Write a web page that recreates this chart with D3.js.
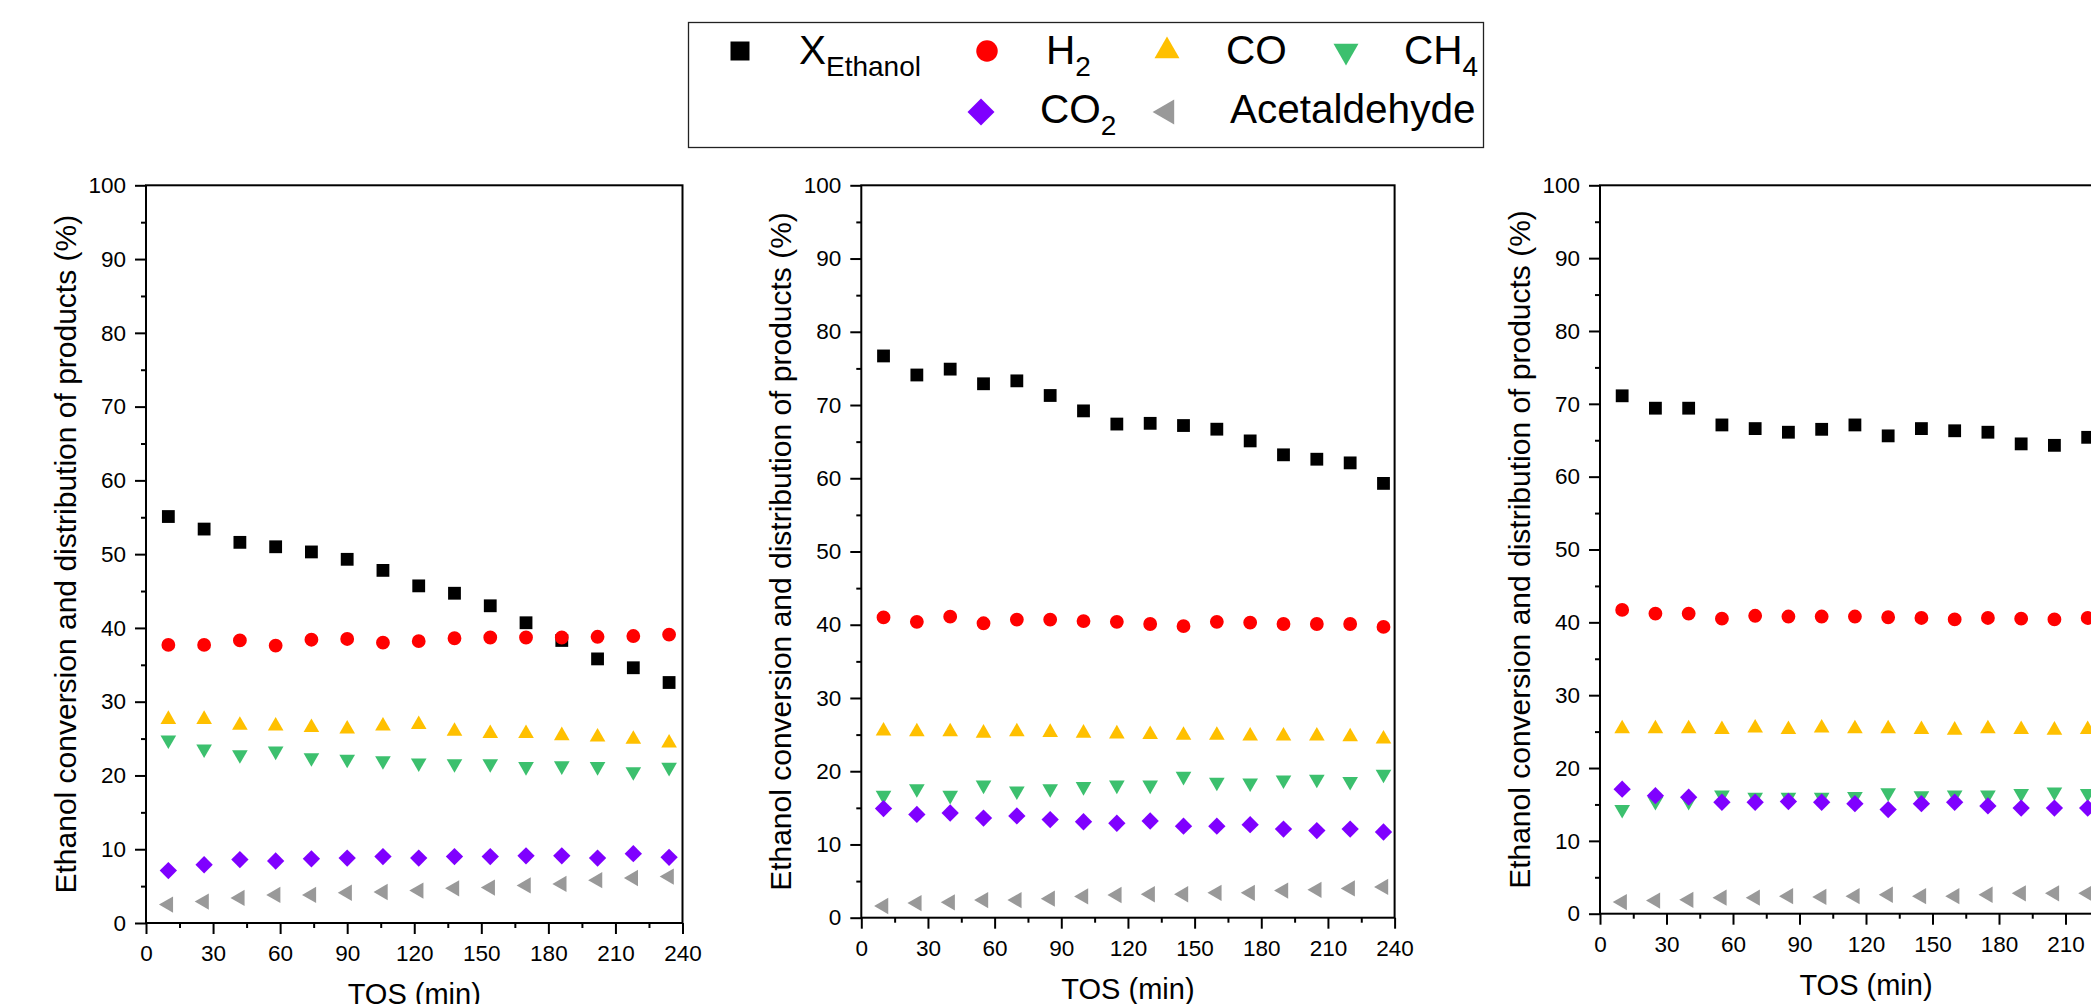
<!DOCTYPE html>
<head>
  <meta charset="utf-8">
  <script src="https://cdn.jsdelivr.net/npm/d3@7"></script>
  <title>Ethanol conversion and product distribution vs TOS</title>
  <style>
    body { margin: 0; background: #fff; }
    text { font-family: "Liberation Sans", Arial, sans-serif; fill: #000; }
  </style>
</head>
<body>
  <div id="chartDiv"></div>
  <script>

    // time on stream (min) for each of the three panels
    var tosA = [10, 26, 42, 58, 74, 90, 106, 122, 138, 154, 170, 186, 202, 218, 234];
    var tosB = [10, 25, 40, 55, 70, 85, 100, 115, 130, 145, 160, 175, 190, 205, 220, 235];
    var tosC = [10, 25, 40, 55, 70, 85, 100, 115, 130, 145, 160, 175, 190, 205, 220];

    // panel 1
    var ethanolA = [55.1, 53.4, 51.6, 51.0, 50.3, 49.3, 47.8, 45.7, 44.7, 43.0, 40.7, 38.3, 35.8, 34.6, 32.6];
    var h2A      = [37.7, 37.7, 38.3, 37.6, 38.4, 38.5, 38.0, 38.2, 38.6, 38.7, 38.7, 38.7, 38.8, 38.9, 39.1];
    var coA      = [27.6, 27.6, 26.8, 26.7, 26.5, 26.3, 26.7, 26.9, 26.0, 25.7, 25.7, 25.4, 25.2, 24.9, 24.4];
    var ch4A     = [24.8, 23.6, 22.8, 23.3, 22.4, 22.2, 22.0, 21.7, 21.6, 21.6, 21.2, 21.3, 21.2, 20.5, 21.1];
    var co2A     = [7.1, 7.9, 8.6, 8.4, 8.7, 8.8, 9.0, 8.8, 9.0, 9.0, 9.1, 9.1, 8.8, 9.4, 8.9];
    var acetA    = [2.5, 2.9, 3.4, 3.8, 3.8, 4.1, 4.2, 4.4, 4.7, 4.8, 5.1, 5.3, 5.8, 6.1, 6.3];

    // panel 2
    var ethanolB = [76.7, 74.1, 74.9, 72.9, 73.3, 71.3, 69.2, 67.4, 67.5, 67.2, 66.7, 65.1, 63.2, 62.6, 62.1, 59.3];
    var h2B      = [41.0, 40.4, 41.1, 40.2, 40.7, 40.7, 40.5, 40.4, 40.1, 39.8, 40.4, 40.3, 40.1, 40.1, 40.1, 39.7];
    var coB      = [25.5, 25.4, 25.4, 25.2, 25.4, 25.3, 25.2, 25.1, 25.0, 24.9, 24.9, 24.8, 24.8, 24.8, 24.7, 24.4];
    var ch4B     = [16.7, 17.6, 16.7, 18.1, 17.3, 17.6, 17.9, 18.1, 18.1, 19.3, 18.5, 18.4, 18.8, 18.9, 18.6, 19.6];
    var co2B     = [14.9, 14.1, 14.3, 13.6, 13.9, 13.4, 13.1, 12.9, 13.2, 12.5, 12.5, 12.7, 12.1, 11.9, 12.1, 11.7];
    var acetB    = [1.6, 2.0, 2.1, 2.4, 2.4, 2.6, 2.9, 3.1, 3.2, 3.2, 3.4, 3.4, 3.7, 3.8, 4.0, 4.2];

    // panel 3 (cut off at the right edge)
    var ethanolC = [71.1, 69.4, 69.4, 67.1, 66.6, 66.1, 66.5, 67.1, 65.6, 66.6, 66.3, 66.1, 64.5, 64.3, 65.4];
    var h2C      = [41.7, 41.2, 41.2, 40.5, 40.9, 40.8, 40.8, 40.8, 40.7, 40.6, 40.4, 40.6, 40.5, 40.4, 40.6];
    var coC      = [25.4, 25.4, 25.4, 25.3, 25.5, 25.3, 25.5, 25.4, 25.4, 25.3, 25.2, 25.4, 25.3, 25.2, 25.3];
    var ch4C     = [14.3, 15.4, 15.4, 16.3, 16.0, 16.0, 16.0, 16.1, 16.6, 16.2, 16.3, 16.3, 16.5, 16.7, 16.5];
    var co2C     = [17.1, 16.2, 16.0, 15.3, 15.3, 15.4, 15.3, 15.1, 14.3, 15.1, 15.3, 14.8, 14.5, 14.5, 14.5];
    var acetC    = [1.6, 1.8, 1.9, 2.2, 2.2, 2.4, 2.3, 2.4, 2.6, 2.4, 2.4, 2.6, 2.8, 2.8, 2.8];

    var seriesNames = ["X", "H", "CO", "CH", "CO", "Acetaldehyde"];
    var seriesSubs  = ["Ethanol", "2", "", "4", "2", ""];
    var seriesColors = ["#000000", "#ff0000", "#ffc000", "#3cc06e", "#7f00ff", "#999999"];

    var yTicks = d3.range(0, 101, 10);
    var xTicks = d3.range(0, 241, 30);

    var width = 2091;
    var height = 1004;

    // marker shapes: [symbol type, rotation, area in panel, area in legend]
    var shapes = [
      [d3.symbolSquare, 0, 164, 361],
      [d3.symbolCircle, 0, 150, 363],
      [d3.symbolTriangle, 0, 106, 270],
      [d3.symbolTriangle, 180, 106, 270],
      [d3.symbolSquare, 45, 150, 365],
      [d3.symbolTriangle, -90, 115, 270]
    ];

    var panels = [
      { left: 146, right: 682.5, top: 185.3, bottom: 923, tos: tosA,
        values: [ethanolA, h2A, coA, ch4A, co2A, acetA] },
      { left: 861.3, right: 1394.6, top: 185.3, bottom: 917.7, tos: tosB,
        values: [ethanolB, h2B, coB, ch4B, co2B, acetB] },
      { left: 1600, right: 2132, top: 185.3, bottom: 913.7, tos: tosC,
        values: [ethanolC, h2C, coC, ch4C, co2C, acetC] }
    ];

    var svg = d3.select("#chartDiv").append("svg")
        .attr("width", width)
        .attr("height", height);

    panels.forEach(function(p) {
      var x = d3.scaleLinear().domain([0, 240]).range([p.left, p.right]);
      var y = d3.scaleLinear().domain([0, 100]).range([p.bottom, p.top]);

      var g = svg.append("g");

      // minor ticks
      g.append("g")
          .attr("transform", "translate(0," + p.bottom + ")")
          .call(d3.axisBottom(x).tickValues(d3.range(15, 241, 30)).tickSize(5).tickFormat(""));
      g.append("g")
          .attr("transform", "translate(" + p.left + ",0)")
          .call(d3.axisLeft(y).tickValues(d3.range(5, 101, 10)).tickSize(5).tickFormat(""));

      // major ticks
      g.append("g")
          .attr("transform", "translate(0," + p.bottom + ")")
          .call(d3.axisBottom(x).tickValues(xTicks).tickSize(11).tickPadding(11));
      g.append("g")
          .attr("transform", "translate(" + p.left + ",0)")
          .call(d3.axisLeft(y).tickValues(yTicks).tickSize(11).tickPadding(9));

      g.selectAll(".domain").remove();
      g.selectAll(".tick line").attr("stroke", "#000").attr("stroke-width", 2);
      g.selectAll(".tick text")
          .style("font-family", "'Liberation Sans', Arial, sans-serif")
          .style("font-size", "22.5px")
          .attr("fill", "#000");

      // frame
      g.append("rect")
          .attr("x", p.left)
          .attr("y", p.top)
          .attr("width", p.right - p.left)
          .attr("height", p.bottom - p.top)
          .attr("fill", "none")
          .attr("stroke", "#000")
          .attr("stroke-width", 2);

      // axis titles
      g.append("text")
          .attr("transform", "translate(" + (p.left - 70) + "," + ((p.top + p.bottom) / 2) + ") rotate(-90)")
          .attr("text-anchor", "middle")
          .style("font-size", "30px")
          .text("Ethanol conversion and distribution of products (%)");

      g.append("text")
          .attr("x", (p.left + p.right) / 2)
          .attr("y", p.bottom + 81)
          .attr("text-anchor", "middle")
          .style("font-size", "29px")
          .text("TOS (min)");

      // points
      p.values.forEach(function(vals, s) {
        var sym = d3.symbol().type(shapes[s][0]).size(shapes[s][2]);
        g.append("g").selectAll("path")
            .data(vals)
          .enter().append("path")
            .attr("d", sym)
            .attr("transform", function(d, i) {
              return "translate(" + x(p.tos[i]) + "," + y(d) + ") rotate(" + shapes[s][1] + ")";
            })
            .attr("fill", seriesColors[s]);
      });
    });

    // legend
    var legend = svg.append("g").attr("transform", "translate(688,22)");

    legend.append("rect")
        .attr("x", 0.5)
        .attr("y", 0.5)
        .attr("width", 795)
        .attr("height", 125)
        .attr("fill", "none")
        .attr("stroke", "#222")
        .attr("stroke-width", 1.3);

    // where each legend item sits: marker x, text x, row
    var legendMarkerX = [52, 299, 479, 658, 293, 479];
    var legendTextX   = [111, 358, 538, 716, 352, 542];
    var legendRow     = [0, 0, 0, 0, 1, 1];
    var rowMarkerY = [29, 90];
    var rowTextY = [42, 101];

    seriesNames.forEach(function(name, s) {
      legend.append("path")
          .attr("d", d3.symbol().type(shapes[s][0]).size(shapes[s][3]))
          .attr("transform", "translate(" + legendMarkerX[s] + "," + rowMarkerY[legendRow[s]] + ") rotate(" + shapes[s][1] + ")")
          .attr("fill", seriesColors[s]);

      var t = legend.append("text")
          .attr("x", legendTextX[s])
          .attr("y", rowTextY[legendRow[s]])
          .style("font-size", "40.5px")
          .text(name);
      if (seriesSubs[s]) {
        t.append("tspan")
            .attr("dy", 12)
            .style("font-size", "28px")
            .text(seriesSubs[s]);
      }
    });

  </script>
</body>
